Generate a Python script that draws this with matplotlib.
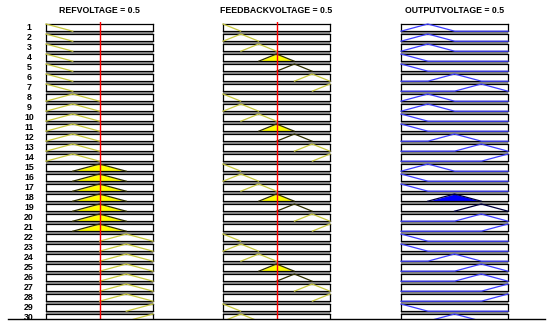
import numpy as np
import matplotlib
matplotlib.use("Agg")
import matplotlib.pyplot as plt
from matplotlib.patches import Rectangle

plt.rcParams['font.family'] = ['Liberation Sans', 'DejaVu Sans']

# variables shown in the rule viewer
var_names = ['REFVOLTAGE', 'FEEDBACKVOLTAGE', 'OUTPUTVOLTAGE']
var_values = [0.5, 0.5, 0.5]

# triangular MF centres, range [0, 1]
ref_centres = [0.0, 0.25, 0.5, 0.75, 1.0]
fb_centres = [0.0, 1/6, 2/6, 3/6, 4/6, 5/6, 1.0]
out_centres = [0.0, 0.25, 0.5, 0.75, 1.0]
ref_halfwidth = 0.25
fb_halfwidth = 1/6
out_halfwidth = 0.25

# which MF each rule uses (1-based)
ref_mf = [1]*7 + [2]*7 + [3]*7 + [4]*7 + [5]*2
fb_mf = [1, 2, 3, 4, 5, 6, 7]*4 + [1, 2]
out_mf = [2, 2, 2, 1, 1, 3, 4,
          2, 2, 1, 1, 3, 4, 5,
          2, 1, 1, 3, 4, 4, 5,
          1, 1, 3, 4, 4, 5, 5,
          1, 3]
n_rules = len(ref_mf)

# layout in pixels
W, H = 550, 329
col_left = [46, 223, 401]
col_w = 107
row_top0 = 24
row_step = 10
box_h = 7.2
bottom_y = 319

line_col = ['#c8c840', '#c8c840', '#4040ff']
fill_col = ['#ffff00', '#ffff00', '#0000ff']


def tri(xs, c, hw):
    return np.maximum(0, 1 - np.abs(xs - c) / hw)


fig = plt.figure(figsize=(W/100, H/100), dpi=100)
bg = fig.add_axes([0, 0, 1, 1])
bg.set_xlim(0, W)
bg.set_ylim(H, 0)
bg.axis('off')

xs = np.linspace(0, 1, 401)
inputs = [(ref_mf, ref_centres, ref_halfwidth), (fb_mf, fb_centres, fb_halfwidth)]

# firing strength of each rule (min of input memberships at the input values)
mu_in = []
for k, (mfs, cents, hw) in enumerate(inputs):
    mu_in.append([tri(np.array(var_values[k]), cents[m-1], hw) for m in mfs])
firing = np.minimum(mu_in[0], mu_in[1])

for k in range(3):
    x0 = col_left[k]
    bg.text(x0 + col_w/2, 10.5, f'{var_names[k]} = {var_values[k]}',
            ha='center', va='center', fontsize=6.3, fontweight='bold')
    for i in range(n_rules):
        yt = row_top0 + row_step*i
        bg.add_patch(Rectangle((x0, yt), col_w, row_step, color='#959595', lw=0))
        ax = fig.add_axes([x0/W, 1 - (yt + box_h)/H, col_w/W, box_h/H])
        ax.set_xlim(0, 1)
        ax.set_ylim(0, 1)
        ax.set_xticks([])
        ax.set_yticks([])
        for s in ax.spines.values():
            s.set_linewidth(0.9)
            s.set_color('black')
        if k < 2:
            mfs, cents, hw = inputs[k]
            level = mu_in[k][i]
        else:
            mfs, cents, hw = out_mf, out_centres, out_halfwidth
            level = firing[i]
        c = cents[mfs[i]-1]
        y = tri(xs, c, hw)
        if level > 0:
            ax.fill_between(xs, np.minimum(y, level), color=fill_col[k], lw=0, zorder=2)
            keep = (xs >= c - hw) & (xs <= c + hw)
            ax.plot(xs[keep], y[keep], color='#303000' if k < 2 else '#000040',
                    lw=0.9, clip_on=False, zorder=3)
        elif k < 2:
            keep = (xs >= c - hw) & (xs <= c + hw)
            ax.plot(xs[keep], y[keep], color=line_col[k], lw=0.9, clip_on=False, zorder=3)
        else:
            ax.plot(xs, y, color=line_col[k], lw=0.9, clip_on=False, zorder=3)

# row numbers
for i in range(n_rules):
    bg.text(29, row_top0 + row_step*i + 3.8, str(i + 1), ha='center', va='center',
            fontsize=6.3, fontweight='bold')

# red input markers
for k in range(2):
    ov = fig.add_axes([col_left[k]/W, 1 - bottom_y/H, col_w/W, (bottom_y - 22)/H])
    ov.set_xlim(0, 1)
    ov.axis('off')
    ov.patch.set_alpha(0)
    ov.set_zorder(10)
    ov.axvline(var_values[k], color='red', lw=1)

# bottom cover line
top = fig.add_axes([0, 0, 1, 1])
top.set_xlim(0, W)
top.set_ylim(H, 0)
top.axis('off')
top.patch.set_alpha(0)
top.set_zorder(20)
top.add_patch(Rectangle((0, bottom_y), W, H - bottom_y, color='white', lw=0))
top.plot([8, 545], [bottom_y, bottom_y], color='black', lw=1)

fig.savefig('out.png', dpi=100)
